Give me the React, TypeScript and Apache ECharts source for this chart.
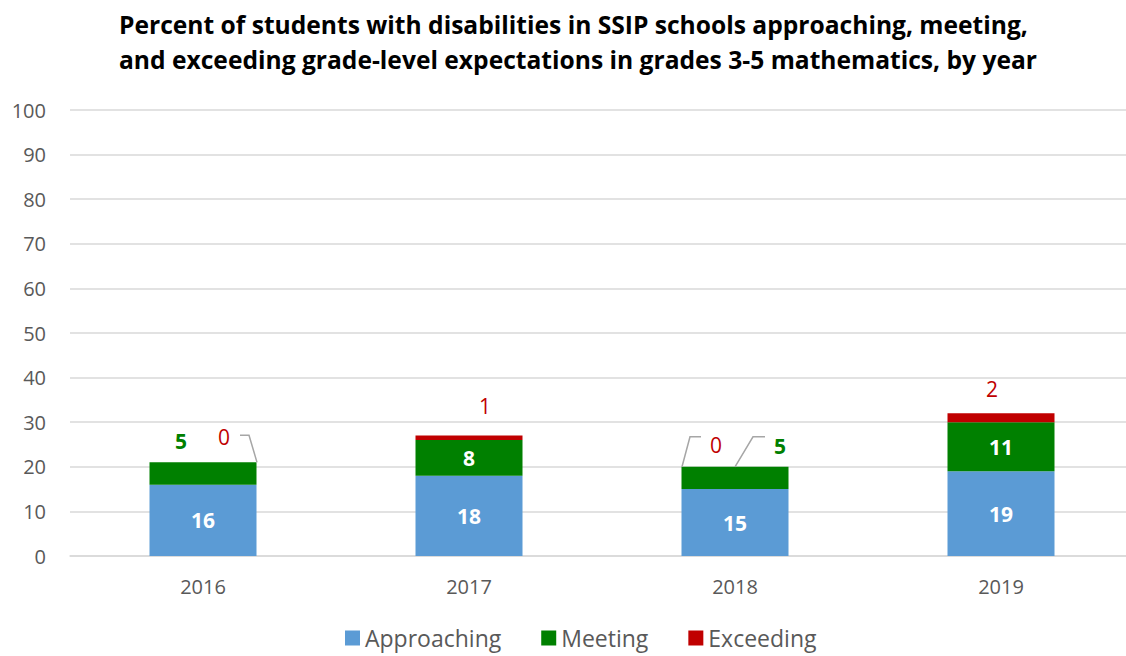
import React, { useEffect, useRef } from "react";
import * as echarts from "echarts";

const years = ["2016", "2017", "2018", "2019"];
const approaching = [16, 18, 15, 19];
const meeting = [5, 8, 5, 11];
const exceeding = [0, 1, 0, 2];
const yTicks = [0, 10, 20, 30, 40, 50, 60, 70, 80, 90, 100];

const titleLines = [
  "Percent of students with disabilities in SSIP schools approaching, meeting,",
  "and exceeding grade-level expectations in grades 3-5 mathematics, by year",
];

// leader lines: which category they belong to (anchored at stack top)
const leaderCats = [0, 2, 2];
// pixel offsets from bar-top-centre (style only)
const leaderShapes = [
  [[54, 0], [46, -27], [37, -27]],
  [[-53, 0], [-45, -30], [-34, -30]],
  [[0, 0], [18, -30], [30, -30]],
];

const FONT = "Open Sans";
const BLUE = "#5b9bd5";
const GREEN = "#008000";
const RED = "#c00000";

export default function App() {
  const ref = useRef<HTMLDivElement>(null);
  useEffect(() => {
    if (!ref.current) return;
    const chart = echarts.init(ref.current, null, { renderer: "svg" });
    const totals = years.map((_, i) => approaching[i] + meeting[i] + exceeding[i]);

    const meetingOutside: Record<number, number[]> = { 0: [-22, -6], 2: [45, -5] };
    const exceedOffsets = [[21, -10], [16, -14], [-19, -6], [-9, -9]];

    const labelBase = { fontFamily: FONT, fontSize: 21 };

    chart.setOption({
      animation: false,
      backgroundColor: "#ffffff",
      title: {
        text: titleLines.join("\n"),
        left: 114,
        top: 2,
        textStyle: {
          fontFamily: FONT,
          fontWeight: "bold",
          fontSize: 24.6,
          lineHeight: 35,
          color: "#000000",
        },
      },
      legend: {
        data: ["Approaching", "Meeting", "Exceeding"],
        top: 621,
        left: 340,
        icon: "rect",
        itemWidth: 15,
        itemHeight: 15,
        itemGap: 40,
        textStyle: { fontFamily: FONT, fontSize: 23, lineHeight: 24, color: "#595959" },
      },
      grid: { left: 70, top: 110, right: 0, height: 446, containLabel: false },
      xAxis: {
        type: "category",
        data: years,
        axisLine: { lineStyle: { color: "#d9d9d9", width: 1.5 } },
        axisTick: { show: false },
        axisLabel: { fontFamily: FONT, fontSize: 20, color: "#595959", margin: 20 },
      },
      yAxis: {
        type: "value",
        min: 0,
        max: 100,
        interval: 10,
        axisLine: { show: false },
        axisTick: { show: false },
        splitLine: { lineStyle: { color: "#d9d9d9", width: 1.5 } },
        axisLabel: {
          fontFamily: FONT,
          fontSize: 20,
          color: "#595959",
          margin: 24,
          formatter: (v: number) => (yTicks.includes(v) ? String(v) : ""),
        },
      },
      series: [
        {
          name: "Approaching",
          type: "bar",
          stack: "total",
          barWidth: 107,
          itemStyle: { color: BLUE },
          label: {
            show: true,
            position: "inside",
            ...labelBase,
            fontWeight: "bold",
            color: "#ffffff",
          },
          data: approaching,
        },
        {
          name: "Meeting",
          type: "bar",
          stack: "total",
          itemStyle: { color: GREEN },
          data: meeting.map((v, i) =>
            meetingOutside[i]
              ? {
                  value: v,
                  label: {
                    show: true,
                    position: "top",
                    offset: meetingOutside[i],
                    ...labelBase,
                    fontWeight: "bold",
                    color: GREEN,
                  },
                }
              : {
                  value: v,
                  label: {
                    show: true,
                    position: "inside",
                    ...labelBase,
                    fontWeight: "bold",
                    color: "#ffffff",
                  },
                }
          ),
        },
        {
          name: "Exceeding",
          type: "bar",
          stack: "total",
          itemStyle: { color: RED },
          data: exceeding.map((v, i) => ({
            value: v,
            label: {
              show: true,
              position: "top",
              offset: exceedOffsets[i],
              ...labelBase,
              color: RED,
            },
          })),
        },
        {
          name: "leaders",
          type: "custom",
          silent: true,
          z: 5,
          data: leaderCats.map((c) => [c, totals[c]]),
          renderItem: (params: any, api: any) => {
            const i = params.dataIndex;
            const p = api.coord([api.value(0), api.value(1)]);
            return {
              type: "polyline",
              shape: { points: leaderShapes[i].map(([dx, dy]) => [p[0] + dx, p[1] + dy]) },
              style: { stroke: "#a6a6a6", lineWidth: 1.5, fill: "none" },
            };
          },
        },
      ],
    });
    return () => chart.dispose();
  }, []);

  return (
    <div
      style={{
        position: "fixed",
        left: 0,
        top: 0,
        width: 1126,
        height: 656,
        overflow: "hidden",
        background: "#fff",
      }}
    >
      <div ref={ref} style={{ width: 1134, height: 656 }} />
    </div>
  );
}
